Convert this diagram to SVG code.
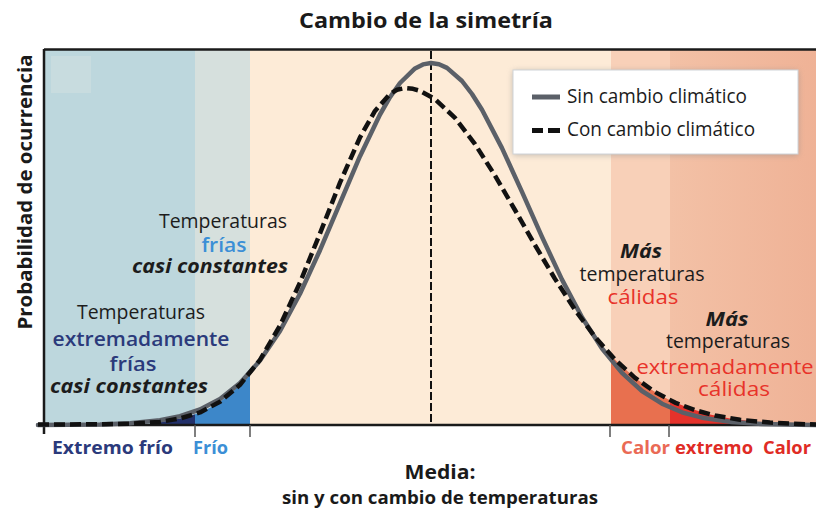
<svg xmlns="http://www.w3.org/2000/svg" width="816" height="511" viewBox="0 0 816 511">
<defs>
<style>
text{font-family:"Open Sans","Noto Sans","Liberation Sans",sans-serif;}
.reg{font-size:20px;fill:#1c1c1c;}
.b{font-weight:700;}
.sb{font-weight:600;}
.bi{font-weight:700;font-style:italic;fill:#1c1c1c;font-size:20px;}
.lbl{font-size:18px;font-weight:700;}
.navy{fill:#2b3a7b;}
.blue{fill:#3b8fd6;}
.red{fill:#e8332a;}
.orange{fill:#ea6a55;}
.solid{fill:none;stroke:#5b6068;stroke-width:4.5;stroke-linejoin:round;stroke-linecap:round;}
.dash{fill:none;stroke:#111;stroke-width:4.5;stroke-dasharray:11 5;stroke-linejoin:round;}
.tick{stroke:#555;stroke-width:1.5;}
</style>
<linearGradient id="gw" x1="0" y1="0" x2="1" y2="0">
<stop offset="0" stop-color="#f3c1a6"/>
<stop offset="1" stop-color="#efb296"/>
</linearGradient>
<filter id="sh" x="-10%" y="-20%" width="120%" height="140%">
<feGaussianBlur stdDeviation="3"/>
</filter>
</defs>

<g id="background">
<rect x="44" y="50" width="151" height="375" fill="#bdd7dd"/>
<rect x="51" y="56" width="40" height="37" fill="#c8dcdf"/>
<rect x="195" y="50" width="55" height="375" fill="#d6e0dd"/>
<rect x="250" y="50" width="361" height="375" fill="#fdebd7"/>
<rect x="611" y="50" width="59" height="375" fill="#f8d0b8"/>
<rect x="670" y="50" width="146" height="375" fill="url(#gw)"/>
</g>

<g id="fills">
<path d="M160,425 L160,421.9 L170,420.5 L180,418.5 L190,415.9 L195,414.2 L195,425 Z" fill="#22306a"/>
<path d="M195,425 L195,414.2 L200,412.4 L210,407.7 L220,401.7 L230,394.2 L240,384.8 L250,373.4 L250,425 Z" fill="#3d87c9"/>
<path d="M611,425 L611,355.5 L620,364.5 L635,377.8 L650,388.8 L660,394.9 L670,400.2 L670,425 Z" fill="#e8704f"/>
<path d="M670,425 L670,400.2 L690,408.5 L710,414.4 L730,418.4 L750,421 L760,425 Z" fill="#e5322b"/>
</g>

<g id="axes">
<line x1="431" y1="51" x2="431" y2="425" stroke="#111" stroke-width="2" stroke-dasharray="8 3"/>
<line x1="44" y1="49.5" x2="816" y2="49.5" stroke="#1a1a1a" stroke-width="2.5"/>
<line x1="44" y1="49" x2="44" y2="434" stroke="#1a1a1a" stroke-width="2.5"/>
<line x1="36" y1="425" x2="816" y2="425" stroke="#1a1a1a" stroke-width="2.5"/>
<line class="tick" x1="195" y1="425" x2="195" y2="437"/>
<line class="tick" x1="250" y1="425" x2="250" y2="437"/>
<line class="tick" x1="610" y1="425" x2="610" y2="437"/>
<line class="tick" x1="669" y1="425" x2="669" y2="437"/>
</g>

<g id="connectors">
<path id="curve-sin" class="solid" d="M38,425 L100,424.4 L130,423.3 L160,420.3 L180,416.2 L200,409.5 L220,398.9 L240,383 L260,360.6 L280,330.9 L300,293.7 L320,250.2 L340,203.1 L360,156.2 L380,114.5 L390,97.2 L400,83 L415,68.4 L423,64.4 L431,63 L439,64.2 L447,67.9 L462,81 L472,94 L482,109.7 L502,148.1 L522,191.9 L542,236.9 L562,279.6 L582,317.2 L602,348.5 L622,372.9 L642,391 L662,403.7 L682,412.3 L702,417.7 L732,422.1 L762,423.9 L800,424.7 L816,425"/>
<path id="curve-con" class="dash" d="M38,424.5 L100,424.3 L130,423.8 L160,421.9 L180,418.5 L200,412.4 L220,401.7 L240,384.8 L260,359.8 L280,325.6 L300,282.6 L320,233.4 L340,182.7 L360,137.3 L375,110.9 L390,93.9 L397,89.7 L405,88 L413,88.8 L420,90.8 L435,99.1 L455,117.9 L475,144.1 L495,175.6 L515,210 L535,245.1 L555,278.9 L575,309.8 L595,336.9 L615,359.5 L635,377.8 L655,392 L675,402.6 L695,410.2 L715,415.5 L740,419.8 L770,422.6 L800,424 L816,424.5"/>
</g>

<g id="title">
<text x="426" y="28" text-anchor="middle" class="b" font-size="22" fill="#1a1a1a" textLength="254" lengthAdjust="spacingAndGlyphs">Cambio de la simetría</text>
</g>

<g id="y-axis-label">
<text transform="translate(32,192) rotate(-90)" text-anchor="middle" class="b" font-size="20" fill="#1a1a1a" textLength="275" lengthAdjust="spacingAndGlyphs">Probabilidad de ocurrencia</text>
</g>

<g id="label-frias">
<text x="223" y="228" text-anchor="middle" class="reg" textLength="128" lengthAdjust="spacingAndGlyphs">Temperaturas</text>
<text x="224" y="252" text-anchor="middle" class="reg sb blue" textLength="45" lengthAdjust="spacingAndGlyphs">frías</text>
<text x="210" y="273" text-anchor="middle" class="bi" textLength="156" lengthAdjust="spacingAndGlyphs">casi constantes</text>
</g>

<g id="label-extremadamente-frias">
<text x="141" y="319" text-anchor="middle" class="reg" textLength="128" lengthAdjust="spacingAndGlyphs">Temperaturas</text>
<text x="141" y="346" text-anchor="middle" class="reg sb navy" textLength="177" lengthAdjust="spacingAndGlyphs">extremadamente</text>
<text x="133" y="371" text-anchor="middle" class="reg sb navy" textLength="47" lengthAdjust="spacingAndGlyphs">frías</text>
<text x="129" y="393" text-anchor="middle" class="bi" textLength="158" lengthAdjust="spacingAndGlyphs">casi constantes</text>
</g>

<g id="label-calidas">
<text x="641" y="258" text-anchor="middle" class="bi" textLength="42" lengthAdjust="spacingAndGlyphs">Más</text>
<text x="642" y="281" text-anchor="middle" class="reg" textLength="125" lengthAdjust="spacingAndGlyphs">temperaturas</text>
<text x="643" y="304" text-anchor="middle" class="reg red" textLength="71" lengthAdjust="spacingAndGlyphs">cálidas</text>
</g>

<g id="label-extremadamente-calidas">
<text x="727" y="326" text-anchor="middle" class="bi" textLength="43" lengthAdjust="spacingAndGlyphs">Más</text>
<text x="728" y="348" text-anchor="middle" class="reg" textLength="124" lengthAdjust="spacingAndGlyphs">temperaturas</text>
<text x="725" y="374" text-anchor="middle" class="reg red" textLength="177" lengthAdjust="spacingAndGlyphs">extremadamente</text>
<text x="734" y="396" text-anchor="middle" class="reg red" textLength="72" lengthAdjust="spacingAndGlyphs">cálidas</text>
</g>

<g id="x-labels">
<text x="52" y="454" class="lbl navy" textLength="121" lengthAdjust="spacingAndGlyphs">Extremo  frío</text>
<text x="193" y="454" class="lbl blue" textLength="35" lengthAdjust="spacingAndGlyphs">Frío</text>
<text x="621" y="454" class="lbl orange" textLength="49" lengthAdjust="spacingAndGlyphs">Calor</text>
<text x="675" y="454" class="lbl" fill="#e02b25" textLength="78" lengthAdjust="spacingAndGlyphs">extremo</text>
<text x="763" y="454" class="lbl" fill="#e02b25" textLength="48" lengthAdjust="spacingAndGlyphs">Calor</text>
</g>

<g id="x-axis-title">
<text x="440" y="479" text-anchor="middle" class="b" font-size="19" fill="#1a1a1a" textLength="71" lengthAdjust="spacingAndGlyphs">Media:</text>
<text x="440" y="504" text-anchor="middle" class="b" font-size="17" fill="#1a1a1a" textLength="316" lengthAdjust="spacingAndGlyphs">sin y con cambio de temperaturas</text>
</g>

<g id="legend">
<rect x="513" y="71" width="285" height="84" fill="#8a8a8a" opacity="0.55" filter="url(#sh)"/>
<rect x="513" y="70" width="285" height="84" fill="#ffffff" stroke="#cfd3d8" stroke-width="1"/>
<line x1="532" y1="97" x2="560" y2="97" stroke="#5b6068" stroke-width="5"/>
<rect x="532" y="128" width="11" height="5" fill="#111"/>
<rect x="548" y="128" width="12" height="5" fill="#111"/>
<text x="567" y="103" class="reg" textLength="180" lengthAdjust="spacingAndGlyphs">Sin cambio climático</text>
<text x="567" y="136" class="reg" textLength="188" lengthAdjust="spacingAndGlyphs">Con cambio climático</text>
</g>
</svg>
